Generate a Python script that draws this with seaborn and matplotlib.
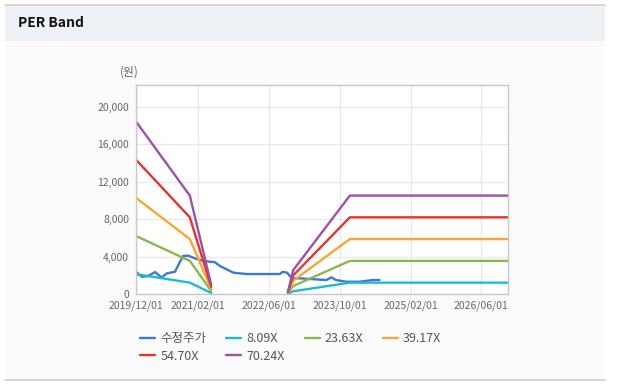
import matplotlib
matplotlib.use('Agg')
import matplotlib.pyplot as plt
from matplotlib.patches import Rectangle
import matplotlib.dates as mdates
import pandas as pd
import numpy as np
import seaborn as sns

# adjusted share price (수정주가)
price_dates = ['2019-12-01', '2020-01-10', '2020-02-20', '2020-04-10', '2020-05-25', '2020-06-30',
               '2020-08-25', '2020-09-28', '2020-10-22', '2020-11-25', '2021-01-10', '2021-02-12',
               '2021-04-20', '2021-05-25', '2021-07-01', '2021-08-15', '2021-10-01', '2022-01-01',
               '2022-08-15', '2022-09-05', '2022-10-05', '2022-11-05', '2023-01-01', '2023-07-01',
               '2023-08-05', '2023-09-05', '2023-11-15', '2024-02-15', '2024-05-15', '2024-07-01']
price = [2370, 1840, 1900, 2340, 1770, 2200, 2370, 3440, 4080, 4080, 3800, 3620,
         3440, 3400, 2980, 2630, 2270, 2130, 2130, 2370, 2270, 1670, 1670, 1490,
         1780, 1490, 1310, 1310, 1490, 1490]

# PER band lines, two segments with a gap between them
band_dates = ['2019-12-01', '2020-12-05', '2021-05-01',
              '2022-10-10', '2022-11-15', '2023-12-10', '2026-12-01']
band_seg = [0, 0, 0, 1, 1, 1, 1]
band_8 = [2120, 1210, 110, 24, 290, 1210, 1210]
band_23 = [6190, 3530, 330, 70, 850, 3530, 3530]
band_39 = [10260, 5860, 550, 120, 1410, 5860, 5860]
band_54 = [14330, 8180, 770, 160, 1970, 8180, 8180]
band_70 = [18400, 10500, 980, 210, 2530, 10500, 10500]

labels = ['수정주가', '8.09X', '23.63X', '39.17X', '54.70X', '70.24X']
colors = ['#3b78d8', '#1fb9d1', '#8bb84c', '#f7a632', '#e1352c', '#9b51a8']
xticks = ['2019/12/01', '2021/02/01', '2022/06/01', '2023/10/01', '2025/02/01', '2026/06/01']

rows = [pd.DataFrame({'date': pd.to_datetime(price_dates), 'value': price,
                      'series': labels[0], 'seg': 0})]
for name, vals in zip(labels[1:], [band_8, band_23, band_39, band_54, band_70]):
    rows.append(pd.DataFrame({'date': pd.to_datetime(band_dates), 'value': vals,
                              'series': name, 'seg': band_seg}))
df = pd.concat(rows, ignore_index=True)

sns.set_style('white')
plt.rcParams['font.family'] = ['Noto Sans CJK KR', 'DejaVu Sans']

fig = plt.figure(figsize=(6.17, 3.89), dpi=100)
fig.patch.set_facecolor('white')
W, H = 617, 389
# panel and title band
fig.patches.append(Rectangle((5 / W, 1 - 380 / H), 600 / W, 375 / H, transform=fig.transFigure,
                             facecolor='#fbfbfc', edgecolor='none', zorder=-3))
fig.patches.append(Rectangle((5 / W, 1 - 41 / H), 600 / W, 36 / H, transform=fig.transFigure,
                             facecolor='#eef2f7', edgecolor='none', zorder=-2))
fig.add_artist(plt.Line2D([5 / W, 605 / W], [1 - 5 / H, 1 - 5 / H], color='#cfcfcf', lw=1.2))
fig.add_artist(plt.Line2D([5 / W, 605 / W], [1 - 380 / H, 1 - 380 / H], color='#cfcfcf', lw=1.2))
fig.text(18 / W, 1 - 23 / H, 'PER Band', fontsize=10, fontweight='bold', color='#111111', va='center')

ax = fig.add_axes([136 / W, 1 - 294 / H, 372 / W, 209 / H])
ax.set_facecolor('white')
sns.lineplot(data=df, x='date', y='value', hue='series', units='seg', estimator=None,
             hue_order=labels, palette=dict(zip(labels, colors)), linewidth=1.7, ax=ax)
handles, labs = ax.get_legend_handles_labels()
ax.get_legend().remove()

ax.set_xlim(pd.Timestamp('2019-12-01'), pd.Timestamp('2026-12-01'))
ax.set_ylim(0, 22300)
ax.set_xticks(pd.to_datetime(xticks, format='%Y/%m/%d'))
ax.xaxis.set_major_formatter(mdates.DateFormatter('%Y/%m/%d'))
ax.set_yticks(np.arange(0, 20001, 4000))
ax.yaxis.set_major_formatter(matplotlib.ticker.FuncFormatter(lambda v, p: f'{int(v):,}'))
ax.grid(True, color='#e8e8e8', lw=0.9)
ax.set_axisbelow(True)
for s in ax.spines.values():
    s.set_color('#c8c8c8')
    s.set_linewidth(1)
ax.tick_params(axis='both', labelsize=7.5, length=3, width=0.8, pad=2, colors='#c8c8c8')
for t in ax.get_xticklabels() + ax.get_yticklabels():
    t.set_color('#666666')
ax.set_xlabel('')
ax.set_ylabel('')
fig.text(129 / W, 1 - 72 / H, '(원)', fontsize=8.5, color='#666666', ha='center', va='center')

# matplotlib fills legend columns first, so reorder to read row by row
order = [0, 4, 1, 5, 2, 3]
leg = fig.legend([handles[i] for i in order], [labs[i] for i in order],
                 loc='upper left', bbox_to_anchor=(134 / W, 1 - 326 / H),
                 ncol=4, frameon=False, fontsize=9, handlelength=1.2, handletextpad=0.4,
                 columnspacing=1.6, labelspacing=0.35, borderpad=0, labelcolor='#555555')

fig.savefig('out.png', dpi=100)
